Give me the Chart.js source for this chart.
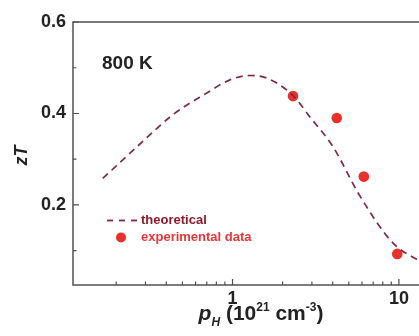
<!DOCTYPE html>
<html>
<head>
<meta charset="utf-8">
<script src="https://cdn.jsdelivr.net/npm/chart.js@4.4.1/dist/chart.umd.min.js"></script>
<style>
  html, body { margin: 0; padding: 0; background: #fff; overflow: hidden; width: 419px; height: 336px; }
  #wrap { position: relative; width: 455px; height: 336px; }
</style>
</head>
<body>
<div id="wrap"><canvas id="zt" width="455" height="336"></canvas></div>
<script>
// theoretical curve (p_H in 10^21 cm^-3, zT)
const theoryX = [0.166, 0.295, 0.437, 0.695, 0.959, 1.265, 1.56, 2.30, 2.91, 4.02, 5.82, 9.2, 13, 16];
const theoryY = [0.258, 0.342, 0.397, 0.444, 0.473, 0.483, 0.479, 0.440, 0.393, 0.327, 0.220, 0.117, 0.080, 0.065];

// experimental points
const expX = [2.31, 4.23, 6.15, 9.77];
const expY = [0.438, 0.390, 0.262, 0.093];

// ticks
const xTicks = [0.2, 0.3, 0.4, 0.5, 0.6, 0.7, 0.8, 0.9, 1, 2, 3, 4, 5, 6, 7, 8, 9, 10, 20];
const xLabelTicks = [1, 10];
const yTicks = [0.1, 0.2, 0.3, 0.4, 0.5, 0.6];
const yLabelTicks = [0.2, 0.4, 0.6];

const lineColor = '#7c2a40';
const dotColor = '#e8302c';
const frameColor = '#505050';
const FONT = '"Liberation Sans", Arial, sans-serif';

const theoryData = theoryX.map((x, i) => ({ x: x, y: theoryY[i] }));
const expData = expX.map((x, i) => ({ x: x, y: expY[i] }));

// frame, inward ticks, titles, legend, label
const decor = {
  id: 'decor',
  afterDraw(chart) {
    const ctx = chart.ctx;
    const a = chart.chartArea;
    const xs = chart.scales.x, ys = chart.scales.y;
    ctx.save();

    // frame
    ctx.strokeStyle = frameColor;
    ctx.lineWidth = 1.5;
    ctx.strokeRect(a.left, a.top, a.right - a.left, a.bottom - a.top);

    // inward ticks
    ctx.lineWidth = 1.2;
    ctx.beginPath();
    xTicks.forEach(v => {
      const px = xs.getPixelForValue(v);
      const len = xLabelTicks.includes(v) ? 6 : 3.5;
      ctx.moveTo(px, a.bottom);
      ctx.lineTo(px, a.bottom - len);
    });
    yTicks.forEach(v => {
      const py = ys.getPixelForValue(v);
      const len = yLabelTicks.includes(v) ? 6 : 3.5;
      ctx.moveTo(a.left, py);
      ctx.lineTo(a.left + len, py);
    });
    ctx.stroke();

    // y title: zT
    ctx.fillStyle = '#222';
    ctx.save();
    ctx.translate(a.left - 51, (a.top + a.bottom) / 2 + 2);
    ctx.rotate(-Math.PI / 2);
    ctx.font = 'italic bold 18px ' + FONT;
    ctx.textAlign = 'center';
    ctx.textBaseline = 'middle';
    ctx.fillText('zT', 0, 0);
    ctx.restore();

    // x title: p_H (10^21 cm^-3)
    const parts = [
      { t: 'p', f: 'italic bold 21px ' + FONT, dy: 0 },
      { t: 'H', f: 'italic bold 12px ' + FONT, dy: 6 },
      { t: ' (10', f: 'bold 21px ' + FONT, dy: 0 },
      { t: '21', f: 'bold 12px ' + FONT, dy: -9 },
      { t: ' cm', f: 'bold 21px ' + FONT, dy: 0 },
      { t: '-3', f: 'bold 12px ' + FONT, dy: -9 },
      { t: ')', f: 'bold 21px ' + FONT, dy: 0 }
    ];
    let total = 0;
    parts.forEach(p => { ctx.font = p.f; p.w = ctx.measureText(p.t).width; total += p.w; });
    let tx = (a.left + a.right) / 2 - total / 2;
    const base = a.bottom + 35;
    ctx.textAlign = 'left';
    ctx.textBaseline = 'alphabetic';
    parts.forEach(p => { ctx.font = p.f; ctx.fillText(p.t, tx, base + p.dy); tx += p.w; });

    // temperature label
    ctx.font = 'bold 19px ' + FONT;
    ctx.fillStyle = '#222';
    ctx.fillText('800 K', a.left + 29, a.top + 47);

    // legend
    const lx = a.left + 34, ly1 = a.top + 198.5, ly2 = a.top + 215.5;
    ctx.strokeStyle = lineColor;
    ctx.lineWidth = 1.8;
    ctx.setLineDash([6, 6]);
    ctx.beginPath();
    ctx.moveTo(lx, ly1);
    ctx.lineTo(lx + 31, ly1);
    ctx.stroke();
    ctx.setLineDash([]);
    ctx.fillStyle = dotColor;
    ctx.beginPath();
    ctx.arc(lx + 14, ly2, 5, 0, Math.PI * 2);
    ctx.fill();
    ctx.font = 'bold 13px ' + FONT;
    ctx.textBaseline = 'middle';
    ctx.fillStyle = '#8a1c2c';
    ctx.fillText('theoretical', lx + 34, ly1);
    ctx.fillStyle = '#e2383a';
    ctx.fillText('experimental data', lx + 34, ly2);

    ctx.restore();
  }
};

new Chart(document.getElementById('zt'), {
  type: 'scatter',
  data: {
    datasets: [{
      label: 'theoretical',
      data: theoryData,
      showLine: true,
      borderColor: lineColor,
      borderWidth: 1.7,
      borderDash: [7, 5],
      pointRadius: 0,
      cubicInterpolationMode: 'monotone',
      fill: false
    }, {
      label: 'experimental data',
      data: expData,
      showLine: false,
      pointRadius: 5.3,
      pointBackgroundColor: dotColor,
      pointBorderWidth: 0
    }]
  },
  options: {
    responsive: false,
    animation: false,
    layout: { padding: { top: 22, right: 6, left: 0, bottom: 0 } },
    plugins: { legend: { display: false }, tooltip: { enabled: false } },
    scales: {
      x: {
        type: 'logarithmic',
        min: 0.11,
        max: 20,
        grid: { display: false, drawTicks: false },
        border: { display: false },
        afterBuildTicks: s => { s.ticks = xTicks.map(v => ({ value: v })); },
        afterFit: s => { s.height = 51; },
        ticks: {
          autoSkip: false,
          maxRotation: 0,
          padding: 3,
          color: '#222',
          font: { family: FONT, size: 18, weight: 'bold' },
          callback: v => xLabelTicks.includes(v) ? String(v) : ''
        }
      },
      y: {
        min: 0.025,
        max: 0.6,
        grid: { display: false, drawTicks: false },
        border: { display: false },
        afterBuildTicks: s => { s.ticks = yTicks.map(v => ({ value: v })); },
        afterFit: s => { s.width = 73; },
        ticks: {
          autoSkip: false,
          padding: 7,
          color: '#222',
          font: { family: FONT, size: 18, weight: 'bold' },
          callback: v => yLabelTicks.some(t => Math.abs(t - v) < 1e-9) ? v.toFixed(1) : ''
        }
      }
    }
  },
  plugins: [decor]
});
</script>
</body>
</html>
